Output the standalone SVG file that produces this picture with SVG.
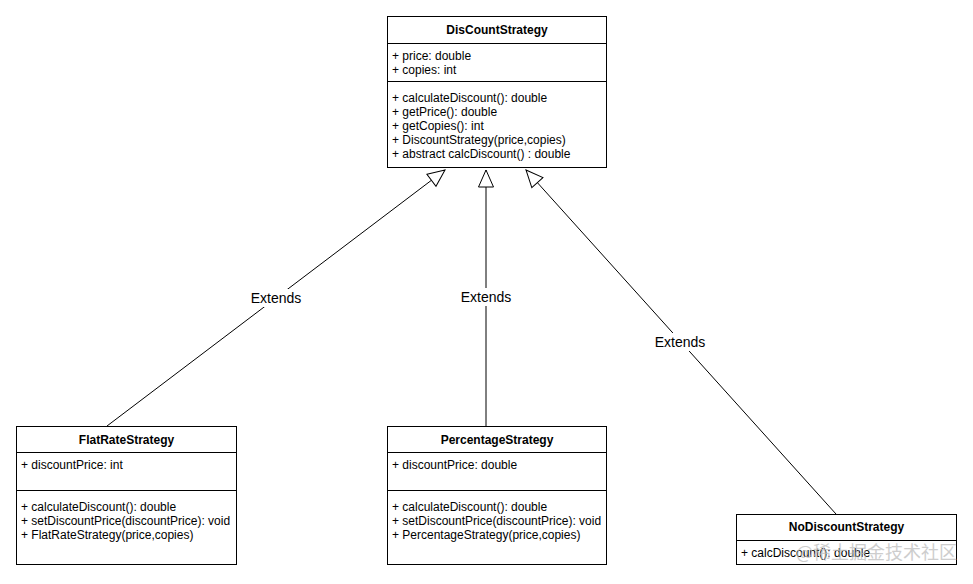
<svg xmlns="http://www.w3.org/2000/svg" width="973" height="584" viewBox="0 0 973 584">
<style>
.box{fill:#fff;stroke:#000;stroke-width:1}
.sep{stroke:#000;stroke-width:1}
.t{font-family:"Liberation Sans",Arial,Helvetica,sans-serif;font-size:12px;fill:#000}
.h{font-family:"Liberation Sans",Arial,Helvetica,sans-serif;font-size:12px;font-weight:bold;fill:#000;text-anchor:middle}
.lbl{font-family:"Liberation Sans",Arial,Helvetica,sans-serif;font-size:14px;fill:#000;text-anchor:middle}
.edge{stroke:#000;stroke-width:1;fill:none}
.wm{font-family:"Noto Sans CJK SC","Liberation Sans",sans-serif;font-size:18px;fill:#bdbdbd;opacity:0.75}
</style>
<defs>
<marker id="tri" markerUnits="userSpaceOnUse" markerWidth="20" markerHeight="18" viewBox="-1 -1 20 18" refX="17" refY="7.5" orient="auto">
<path d="M0,0 L17,7.5 L0,15 Z" fill="#fff" stroke="#000" stroke-width="1"/>
</marker>
</defs>
<rect width="973" height="584" fill="#fff"/>
<g id="connectors">
<line class="edge" x1="107" y1="426" x2="445" y2="170" marker-end="url(#tri)"/>
<line class="edge" x1="486" y1="426" x2="486" y2="170" marker-end="url(#tri)"/>
<line class="edge" x1="836" y1="514" x2="526" y2="170" marker-end="url(#tri)"/>
<rect x="249" y="289" width="54" height="18" fill="#fff"/>
<text class="lbl" x="276" y="303">Extends</text>
<rect x="459" y="288" width="54" height="18" fill="#fff"/>
<text class="lbl" x="486" y="302">Extends</text>
<rect x="653" y="333" width="54" height="18" fill="#fff"/>
<text class="lbl" x="680" y="347">Extends</text>
</g>
<g id="DisCountStrategy">
<rect class="box" x="387.5" y="16.5" width="219" height="151"/>
<line class="sep" x1="387.5" y1="43.5" x2="606.5" y2="43.5"/>
<line class="sep" x1="387.5" y1="81.5" x2="606.5" y2="81.5"/>
<text class="h" x="497" y="34">DisCountStrategy</text>
<text class="t" x="392" y="60">+ price: double</text>
<text class="t" x="392" y="74">+ copies: int</text>
<text class="t" x="392" y="102">+ calculateDiscount(): double</text>
<text class="t" x="392" y="116">+ getPrice(): double</text>
<text class="t" x="392" y="130">+ getCopies(): int</text>
<text class="t" x="392" y="144">+ DiscountStrategy(price,copies)</text>
<text class="t" x="392" y="158">+ abstract calcDiscount() : double</text>
</g>
<g id="FlatRateStrategy">
<rect class="box" x="16.5" y="426.5" width="220" height="138"/>
<line class="sep" x1="16.5" y1="452.5" x2="236.5" y2="452.5"/>
<line class="sep" x1="16.5" y1="490.5" x2="236.5" y2="490.5"/>
<text class="h" x="126.5" y="444">FlatRateStrategy</text>
<text class="t" x="21" y="469">+ discountPrice: int</text>
<text class="t" x="21" y="511">+ calculateDiscount(): double</text>
<text class="t" x="21" y="525">+ setDiscountPrice(discountPrice): void</text>
<text class="t" x="21" y="539">+ FlatRateStrategy(price,copies)</text>
</g>
<g id="PercentageStrategy">
<rect class="box" x="387.5" y="426.5" width="219" height="138"/>
<line class="sep" x1="387.5" y1="452.5" x2="606.5" y2="452.5"/>
<line class="sep" x1="387.5" y1="490.5" x2="606.5" y2="490.5"/>
<text class="h" x="497" y="444">PercentageStrategy</text>
<text class="t" x="392" y="469">+ discountPrice: double</text>
<text class="t" x="392" y="511">+ calculateDiscount(): double</text>
<text class="t" x="392" y="525">+ setDiscountPrice(discountPrice): void</text>
<text class="t" x="392" y="539">+ PercentageStrategy(price,copies)</text>
</g>
<g id="NoDiscountStrategy">
<rect class="box" x="736.5" y="514.5" width="220" height="50"/>
<line class="sep" x1="736.5" y1="540.5" x2="956.5" y2="540.5"/>
<text class="h" x="846.5" y="531">NoDiscountStrategy</text>
<text class="t" x="741" y="557">+ calcDiscount(): double</text>
</g>
<text class="wm" x="796" y="559">@稀土掘金技术社区</text>
</svg>
